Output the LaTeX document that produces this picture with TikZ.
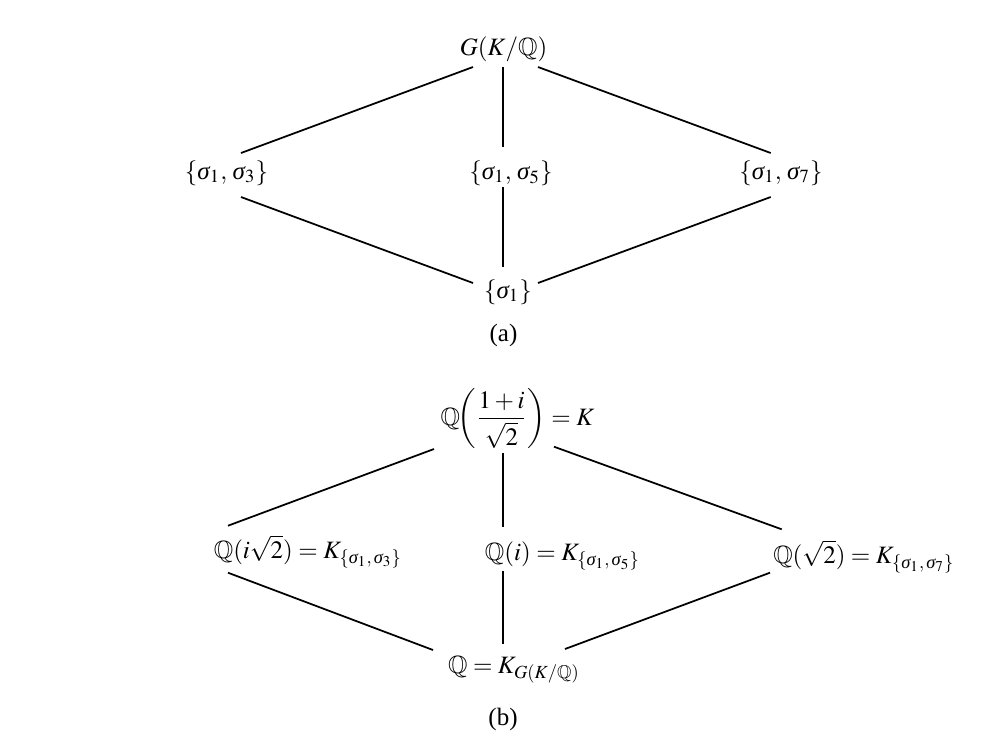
\documentclass[tikz,border=0pt]{standalone}
\usepackage{amsmath}
\usepackage{amssymb}
\usepackage{mathptmx}
\usepackage[no-math]{fontspec}
\newfontfamily\tnr{Liberation Serif}
\newcommand{\sig}{\text{\tnr\itshape σ}}
\tikzset{
  lbl/.style={anchor=base,inner sep=0pt,font=\fontsize{10}{12}\selectfont},
  capt/.style={anchor=base,inner sep=0pt,font=\fontsize{10}{12}\selectfont\tnr},
  conn/.style={line width=0.7pt},
}
\begin{document}
\begin{tikzpicture}[x=0.4pt,y=-0.4pt]
\useasboundingbox (0,0) rectangle (981,736);
% ---- (a) ----
\node[lbl] (ga) at (503.5,55) {$G(K/\mathbb{Q})$};
\node[lbl] (la) at (226.5,179) {$\{\sig_1,\,\sig_3\}$};
\node[lbl] (ma) at (511,179) {$\{\sig_1,\,\sig_5\}$};
\node[lbl] (ra) at (781,179) {$\{\sig_1,\,\sig_7\}$};
\node[lbl] (ba) at (508,298) {$\{\sig_1\}$};
\node[capt] (capa) at (503.5,341.7) {(a)};
\coordinate (ga1) at (473,67);
\coordinate (ga2) at (502.7,67);
\coordinate (ga3) at (538,67);
\coordinate (la1) at (241,153);
\coordinate (la2) at (241,197);
\coordinate (ma1) at (502.7,147);
\coordinate (ma2) at (502.7,187);
\coordinate (ra1) at (770.7,153);
\coordinate (ra2) at (770.7,197);
\coordinate (ba1) at (473,283);
\coordinate (ba2) at (502.7,267);
\coordinate (ba3) at (538,283);
\draw[conn] (ga1) -- (la1);
\draw[conn] (ga2) -- (ma1);
\draw[conn] (ga3) -- (ra1);
\draw[conn] (la2) -- (ba1);
\draw[conn] (ma2) -- (ba2);
\draw[conn] (ra2) -- (ba3);
% ---- (b) ----
\node[lbl] (gb) at (517.5,425) {$\mathbb{Q}\!\biggl(\dfrac{1+i}{\sqrt{2}}\biggr)=K$};
\node[lbl] (lb) at (308,558) {$\mathbb{Q}(i\sqrt{2})=K_{\{\sig_1,\,\sig_3\}}$};
\node[lbl] (mb) at (562.5,560) {$\mathbb{Q}(i)=K_{\{\sig_1,\,\sig_5\}}$};
\node[lbl] (rb) at (864,563) {$\mathbb{Q}(\sqrt{2})=K_{\{\sig_1,\,\sig_7\}}$};
\node[lbl] (bb) at (514,673) {$\mathbb{Q}=K_{G(K/\mathbb{Q})}$};
\node[capt] (capb) at (503,725) {(b)};
\coordinate (gb1) at (434,449);
\coordinate (gb2) at (502.7,453);
\coordinate (gb3) at (554,446.7);
\coordinate (lb1) at (228,525.7);
\coordinate (lb2) at (228,572.7);
\coordinate (mb1) at (502.7,526.7);
\coordinate (mb2) at (502.7,571);
\coordinate (rb1) at (781.7,529.3);
\coordinate (rb2) at (770,572.7);
\coordinate (bb1) at (433,650);
\coordinate (bb2) at (502.7,644);
\coordinate (bb3) at (565,649);
\draw[conn] (gb1) -- (lb1);
\draw[conn] (gb2) -- (mb1);
\draw[conn] (gb3) -- (rb1);
\draw[conn] (lb2) -- (bb1);
\draw[conn] (mb2) -- (bb2);
\draw[conn] (rb2) -- (bb3);
\end{tikzpicture}
\end{document}
